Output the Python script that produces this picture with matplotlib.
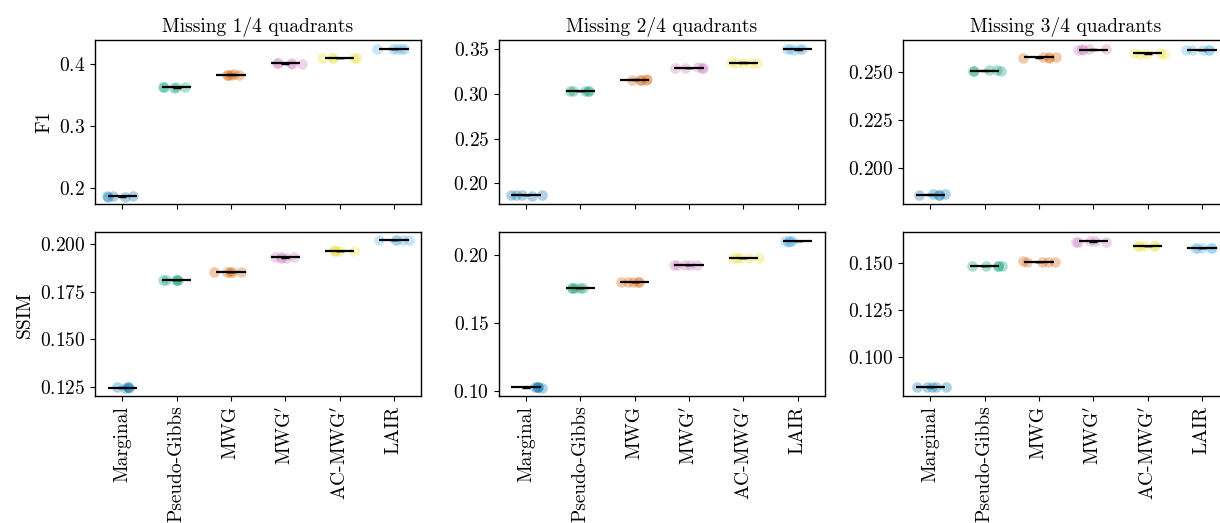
import matplotlib
matplotlib.use("Agg")
import matplotlib.pyplot as plt
import numpy as np
from matplotlib.ticker import MultipleLocator

plt.rcParams.update({
    "font.family": "serif",
    "font.serif": ["cmr10", "DejaVu Serif"],
    "mathtext.fontset": "cm",
    "axes.formatter.use_mathtext": True,
    "font.size": 14,
    "axes.linewidth": 1.0,
})

methods = ["Marginal", "Pseudo-Gibbs", "MWG", "MWG$'$", "AC-MWG$'$", "LAIR"]
colors = ["#0173b2", "#029e73", "#d55e00", "#cc78bc", "#ece133", "#56b4e9"]
titles = ["Missing 1/4 quadrants", "Missing 2/4 quadrants", "Missing 3/4 quadrants"]

# per-seed scores, one list per method
f1_q1 = [[0.1875, 0.1862, 0.1868, 0.1858, 0.1855],
         [0.3615, 0.3625, 0.3632, 0.3635, 0.3628],
         [0.3828, 0.3822, 0.3830, 0.3835, 0.3826],
         [0.4005, 0.4012, 0.4010, 0.4008, 0.4014],
         [0.4100, 0.4098, 0.4102, 0.4096, 0.4104],
         [0.4238, 0.4240, 0.4243, 0.4236, 0.4238]]
f1_q2 = [[0.1868, 0.1870, 0.1862, 0.1869, 0.1866],
         [0.3036, 0.3030, 0.3032, 0.3035, 0.3037],
         [0.3163, 0.3160, 0.3162, 0.3158, 0.3162],
         [0.3298, 0.3292, 0.3295, 0.3294, 0.3296],
         [0.3350, 0.3355, 0.3352, 0.3349, 0.3350],
         [0.3500, 0.3502, 0.3498, 0.3501, 0.3499]]
f1_q3 = [[0.1858, 0.1860, 0.1861, 0.1862, 0.1863],
         [0.2507, 0.2508, 0.2506, 0.2507, 0.2509],
         [0.2578, 0.2576, 0.2574, 0.2577, 0.2575],
         [0.2620, 0.2615, 0.2618, 0.2613, 0.2619],
         [0.2600, 0.2595, 0.2592, 0.2598, 0.2596],
         [0.2614, 0.2614, 0.2613, 0.2614, 0.2612]]
ssim_q1 = [[0.1244, 0.1246, 0.1245, 0.1247, 0.1246],
           [0.1812, 0.1813, 0.1811, 0.1812, 0.1814],
           [0.1853, 0.1856, 0.1854, 0.1855, 0.1857],
           [0.1930, 0.1932, 0.1933, 0.1931, 0.1932],
           [0.1966, 0.1967, 0.1968, 0.1967, 0.1966],
           [0.2025, 0.2024, 0.2023, 0.2024, 0.2022]]
ssim_q2 = [[0.1023, 0.1026, 0.1024, 0.1025, 0.1027],
           [0.1763, 0.1761, 0.1762, 0.1760, 0.1763],
           [0.1804, 0.1802, 0.1803, 0.1806, 0.1804],
           [0.1933, 0.1931, 0.1930, 0.1932, 0.1931],
           [0.1980, 0.1981, 0.1979, 0.1980, 0.1981],
           [0.2104, 0.2106, 0.2107, 0.2104, 0.2103]]
ssim_q3 = [[0.0843, 0.0845, 0.0843, 0.0844, 0.0845],
           [0.1485, 0.1484, 0.1483, 0.1484, 0.1485],
           [0.1507, 0.1505, 0.1504, 0.1505, 0.1505],
           [0.1614, 0.1612, 0.1611, 0.1613, 0.1612],
           [0.1588, 0.1589, 0.1588, 0.1587, 0.1589],
           [0.1580, 0.1579, 0.1578, 0.1579, 0.1580]]

panels = [[f1_q1, f1_q2, f1_q3], [ssim_q1, ssim_q2, ssim_q3]]
ylims = [[(0.174, 0.438), (0.1767, 0.360), (0.1812, 0.2664)],
         [(0.1201, 0.2063), (0.0961, 0.217), (0.0796, 0.166)]]
ysteps = [[0.1, 0.05, 0.025], [0.025, 0.05, 0.025]]
ylabels = ["F1", "SSIM"]

fig = plt.figure(figsize=(12.2, 5.23), dpi=100)
lefts = [0.0779, 0.409, 0.7402]
bottoms = [0.6099, 0.2428]
w, h = 0.2672, 0.3127

rng = np.random.default_rng(3)
for r in range(2):
    for c in range(3):
        ax = fig.add_axes([lefts[c], bottoms[r], w, h])
        data = panels[r][c]
        for i, vals in enumerate(data):
            vals = np.array(vals)
            xj = i + rng.uniform(-0.33, 0.33, len(vals))
            ax.scatter(xj, vals, s=58, color=colors[i], alpha=0.32,
                       linewidths=0, zorder=2)
            m = vals.mean()
            ax.hlines(m, i - 0.27, i + 0.27, color="k", lw=1.6, zorder=3)
            ax.errorbar(i, m, yerr=vals.std(), color="k", capsize=3,
                        lw=1.2, zorder=3)
        ax.set_xlim(-0.5, len(methods) - 0.5)
        ax.set_ylim(*ylims[r][c])
        ax.yaxis.set_major_locator(MultipleLocator(ysteps[r][c]))
        ax.set_xticks(range(len(methods)))
        if r == 1:
            ax.set_xticklabels(methods, rotation=90)
        else:
            ax.set_xticklabels([])
            ax.set_title(titles[c], fontsize=14, pad=6)
        if c == 0:
            ax.set_ylabel(ylabels[r])

fig.savefig("out.png", dpi=100)
